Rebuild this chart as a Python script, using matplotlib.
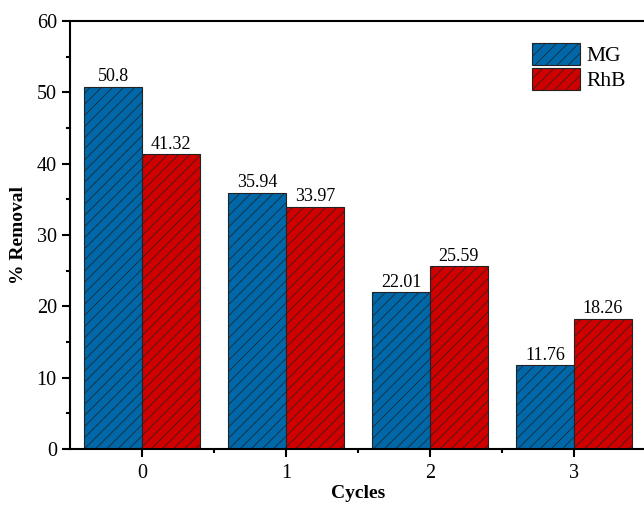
import matplotlib.pyplot as plt
import numpy as np

plt.rcParams['font.family'] = ['Liberation Serif', 'DejaVu Serif']
plt.rcParams['hatch.linewidth'] = 0.5
plt.rcParams['hatch.color'] = '#111111'

cycles = ['0', '1', '2', '3']
mg = [50.8, 35.94, 22.01, 11.76]
rhb = [41.32, 33.97, 25.59, 18.26]

fig = plt.figure(figsize=(6.44, 5.12), dpi=100)
ax = fig.add_axes([70 / 644, 1 - 449 / 512, 576 / 644, 428 / 512])

x = np.arange(len(cycles))
w = 0.4
b1 = ax.bar(x - w / 2, mg, w, color='#0067A8', edgecolor='#222222', linewidth=0.8,
            hatch='///', label='MG')
b2 = ax.bar(x + w / 2, rhb, w, color='#D00000', edgecolor='#222222', linewidth=0.8,
            hatch='///', label='RhB')

for bars, vals in ((b1, mg), (b2, rhb)):
    for bar, v in zip(bars, vals):
        ax.text(bar.get_x() + bar.get_width() / 2, v + 0.2, f'{v:g}',
                ha='center', va='bottom', fontsize=13)

ax.set_xlim(-0.5, 3.5)
ax.set_ylim(0, 60)
ax.set_xticks(x)
ax.set_xticklabels(cycles)
ax.set_xticks([0.5, 1.5, 2.5], minor=True)
ax.set_yticks(np.arange(0, 61, 10))
ax.set_yticks(np.arange(5, 60, 10), minor=True)
ax.tick_params(which='major', direction='out', length=6, width=1.5, labelsize=14.5)
ax.tick_params(which='minor', direction='out', length=3, width=1.5)
ax.tick_params(axis='x', pad=5)
for s in ax.spines.values():
    s.set_linewidth(1.5)

ax.set_ylabel('% Removal', fontsize=14, fontweight='bold', labelpad=7)
ax.set_xlabel('Cycles', fontsize=14, fontweight='bold', labelpad=1.5)

ax.legend(loc='upper right', bbox_to_anchor=(0.998, 0.995), frameon=False, fontsize=15.5,
          handlelength=2.2, handleheight=1.2, handletextpad=0.3, labelspacing=0.1)

fig.savefig('out.png', dpi=100)
